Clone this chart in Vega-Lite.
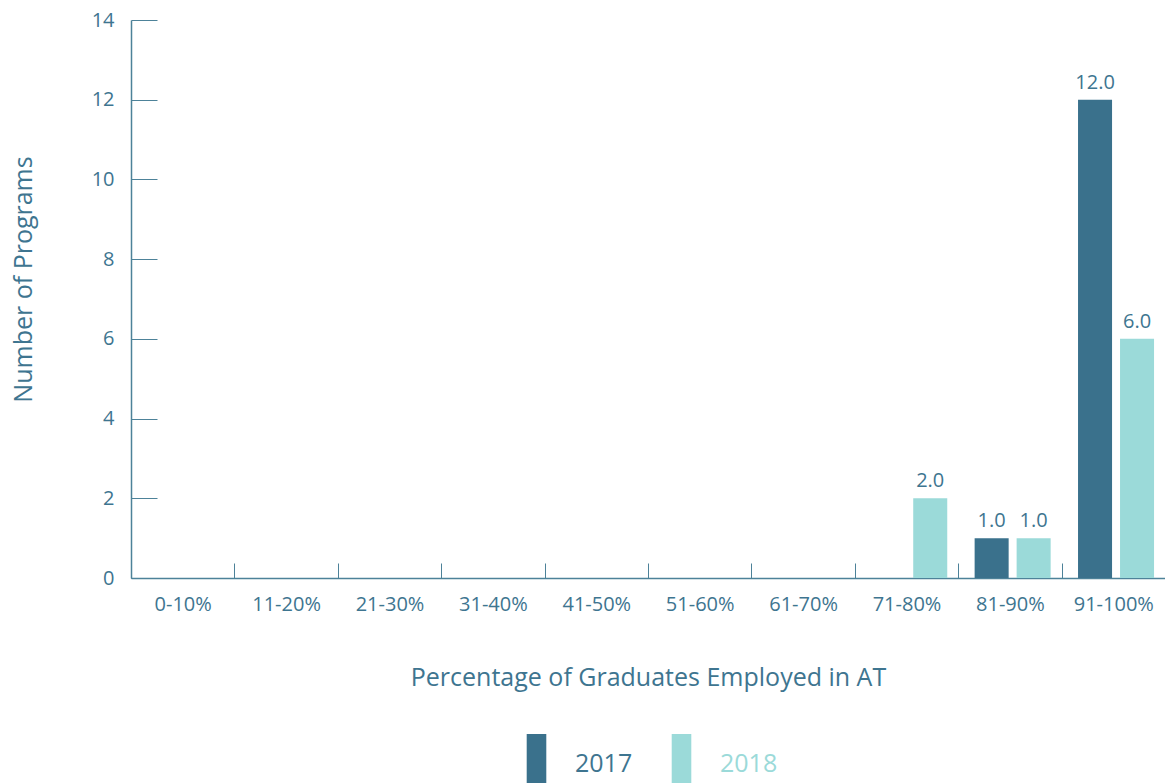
{
  "$schema": "https://vega.github.io/schema/vega-lite/v6.json",
  "width": 1034,
  "height": 558,
  "autosize": {"type": "none"},
  "padding": {"left": 131, "top": 20, "right": 0, "bottom": 205},
  "background": "white",
  "config": {
    "view": {"stroke": null},
    "font": "Open Sans",
    "axis": {"domainColor": "#4d8299", "tickColor": "#4d8299", "labelColor": "#3e7590", "titleColor": "#3e7590", "grid": false, "labelFont": "Open Sans", "titleFont": "Open Sans", "titleFontWeight": "normal"}
  },
  "data": {
    "values": [
      {"range": "0-10%", "year": "2017", "value": 0},
      {"range": "0-10%", "year": "2018", "value": 0},
      {"range": "11-20%", "year": "2017", "value": 0},
      {"range": "11-20%", "year": "2018", "value": 0},
      {"range": "21-30%", "year": "2017", "value": 0},
      {"range": "21-30%", "year": "2018", "value": 0},
      {"range": "31-40%", "year": "2017", "value": 0},
      {"range": "31-40%", "year": "2018", "value": 0},
      {"range": "41-50%", "year": "2017", "value": 0},
      {"range": "41-50%", "year": "2018", "value": 0},
      {"range": "51-60%", "year": "2017", "value": 0},
      {"range": "51-60%", "year": "2018", "value": 0},
      {"range": "61-70%", "year": "2017", "value": 0},
      {"range": "61-70%", "year": "2018", "value": 0},
      {"range": "71-80%", "year": "2017", "value": 0},
      {"range": "71-80%", "year": "2018", "value": 2},
      {"range": "81-90%", "year": "2017", "value": 1},
      {"range": "81-90%", "year": "2018", "value": 1},
      {"range": "91-100%", "year": "2017", "value": 12},
      {"range": "91-100%", "year": "2018", "value": 6}
    ]
  },
  "encoding": {
    "x": {
      "field": "range", "type": "nominal", "sort": null,
      "scale": {"paddingInner": 0, "paddingOuter": 0},
      "axis": {
        "title": "Percentage of Graduates Employed in AT",
        "labelAngle": 0, "labelFontSize": 20, "titleFontSize": 25,
        "tickBand": "extent", "tickSize": -15, "labelPadding": 31,
        "titlePadding": 51, "domainWidth": 1.5
      }
    },
    "xOffset": {"field": "year", "type": "nominal", "scale": {"paddingInner": 0.19, "paddingOuter": 0.326, "align": 0.6}},
    "y": {
      "field": "value", "type": "quantitative",
      "scale": {"domain": [0, 14], "nice": false},
      "axis": {
        "title": "Number of Programs", "values": [0, 2, 4, 6, 8, 10, 12, 14],
        "tickSize": -26, "labelPadding": 43, "labelFontSize": 20, "titleFontSize": 25,
        "titlePadding": 55, "titleY": 259, "domainWidth": 1.5
      }
    }
  },
  "layer": [
    {
      "mark": {"type": "bar"},
      "encoding": {
        "color": {
          "field": "year", "type": "nominal",
          "scale": {"domain": ["2017", "2018"], "range": ["#3a718c", "#9bdad9"]},
          "legend": {
            "title": null, "orient": "none", "legendX": 381, "legendY": 714, "direction": "horizontal",
            "symbolType": "M-0.4,-1 h0.8 v2 h-0.8 z", "symbolSize": 2401,
            "symbolStrokeWidth": 0, "labelFontSize": 25, "labelFont": "Open Sans",
            "labelOffset": 14, "labelBaseline": "middle", "labelOffsetY": 0, "columnPadding": 24,
            "encode": {"labels": {"update": {"fill": {"signal": "datum.value == '2017' ? '#3e7590' : '#9bdad9'"}, "dy": {"value": 5}}}}
          }
        }
      }
    },
    {
      "transform": [{"filter": "datum.value > 0"}],
      "mark": {"type": "text", "baseline": "bottom", "dy": -7, "fontSize": 20, "color": "#3e7590"},
      "encoding": {
        "text": {"field": "value", "type": "quantitative", "format": ".1f"}
      }
    }
  ]
}
